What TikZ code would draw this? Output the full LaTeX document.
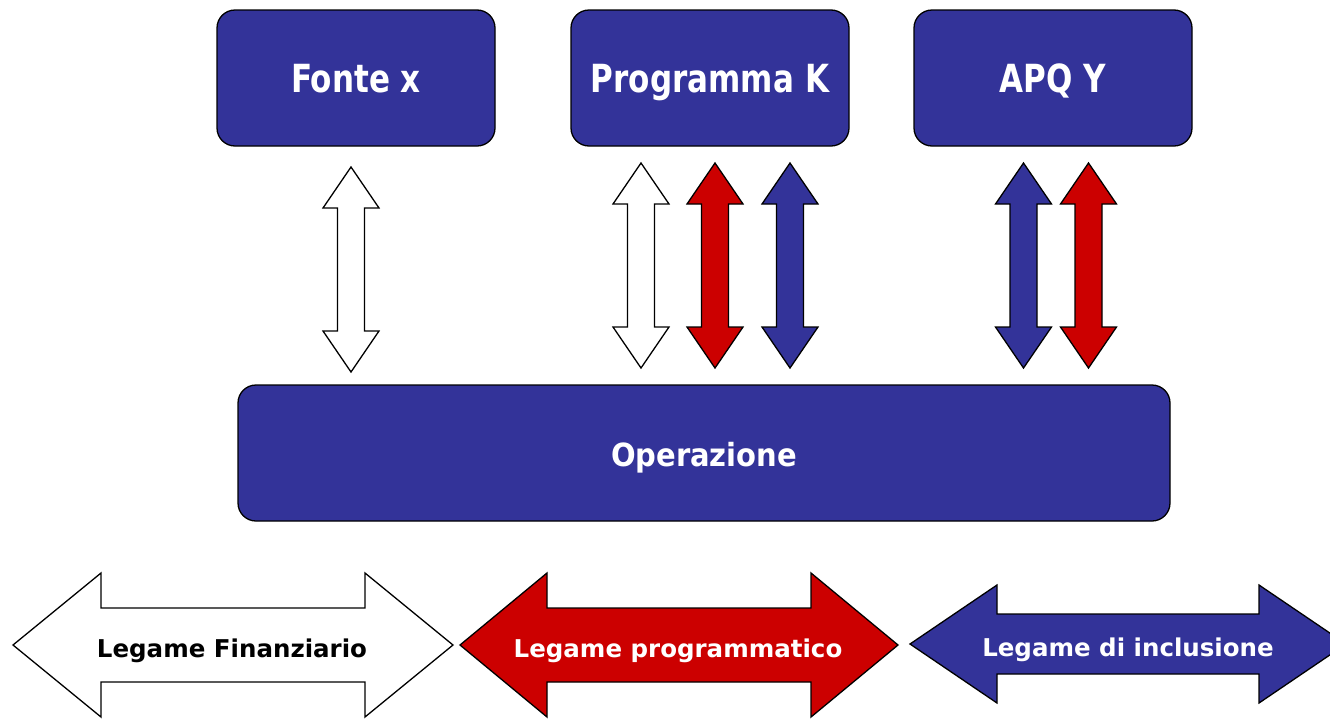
\documentclass[tikz,border=0pt]{standalone}
\usepackage{fontspec}
\setmainfont{DejaVu Sans}
\definecolor{dblue}{HTML}{333399}
\definecolor{dred}{HTML}{CC0000}
\newcommand\vda[4]{% colour, x, ytop, ybottom
  \draw[arrowshape,fill=#1] (#2,#3) -- ({#2+28},{#3+41}) -- ({#2+13.5},{#3+41}) -- ({#2+13.5},{#4-41})
    -- ({#2+28},{#4-41}) -- (#2,#4) -- ({#2-28},{#4-41}) -- ({#2-13.5},{#4-41}) -- ({#2-13.5},{#3+41})
    -- ({#2-28},{#3+41}) -- cycle;}
\newcommand\hda[7]{% colour, xl, xr, yc, headlen, headhalf, shafthalf
  \draw[arrowshape,fill=#1] (#2,#4) -- ({#2+#5},{#4-#6}) -- ({#2+#5},{#4-#7}) -- ({#3-#5},{#4-#7})
    -- ({#3-#5},{#4-#6}) -- (#3,#4) -- ({#3-#5},{#4+#6}) -- ({#3-#5},{#4+#7}) -- ({#2+#5},{#4+#7})
    -- ({#2+#5},{#4+#6}) -- cycle;}
\newcommand\tallA[1]{\scalebox{1}[1.25]{#1}}
\newcommand\tallB[1]{\scalebox{1}[1.1]{#1}}
\begin{document}
\begin{tikzpicture}[x=1pt,y=-1pt,
  arrowshape/.style={draw=black,line width=1.3pt,line join=miter},
  box/.style={draw=black,line width=1.3pt,fill=dblue,rounded corners=18pt,text=white,
    font=\bfseries\fontsize{31}{36}\selectfont,inner sep=0pt,text height=28pt,text depth=0pt},
  lab/.style={font=\bfseries\fontsize{24.5}{28}\selectfont,inner sep=0pt,text height=20pt,text depth=0pt}]
\useasboundingbox (0,0) rectangle (1330,718);
\node[box,minimum width=278pt,minimum height=136pt] (fonte) at (356,78) {\tallA{Fonte x}};
\node[box,minimum width=278pt,minimum height=136pt] (prog) at (710,78) {\tallA{Programma K}};
\node[box,minimum width=278pt,minimum height=136pt] (apq) at (1053,78) {\tallA{APQ Y}};
\node[box,minimum width=932pt,minimum height=136pt,font=\bfseries\fontsize{29}{34}\selectfont,text height=26pt] (oper) at (704,453) {\tallB{Operazione}};
\vda{white}{351}{167}{372}
\vda{white}{641}{163}{368}
\vda{dred}{715}{163}{368}
\vda{dblue}{790}{163}{368}
\vda{dblue}{1023.5}{163}{368}
\vda{dred}{1088.5}{163}{368}
\hda{white}{13}{453}{645}{88}{72}{37}
\hda{dred}{460}{898}{645}{87}{72}{37}
\hda{dblue}{910}{1346}{644}{87}{59}{30}
\node[lab,text=black] (lf) at (232,647) {Legame Finanziario};
\node[lab,text=white] (lp) at (678,647) {Legame programmatico};
\node[lab,text=white] (li) at (1128,646) {Legame di inclusione};
\end{tikzpicture}
\end{document}
